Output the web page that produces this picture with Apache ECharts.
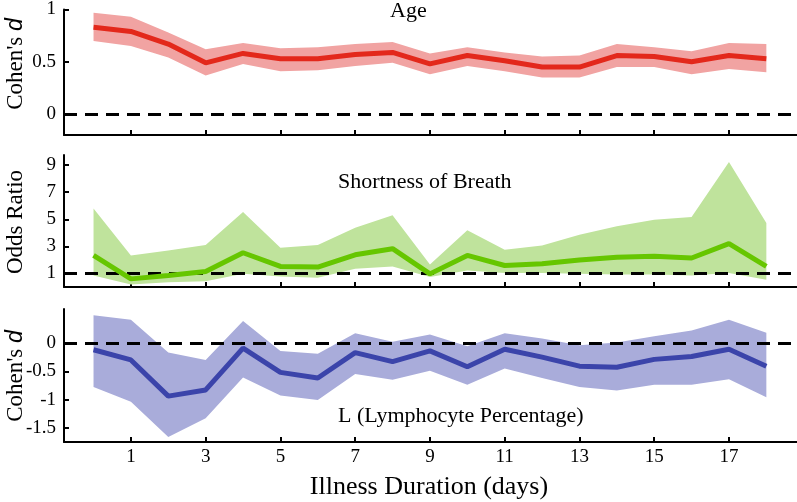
<!DOCTYPE html>
<html><head><meta charset="utf-8">
<script src="https://cdn.jsdelivr.net/npm/echarts@6/dist/echarts.min.js"></script>
<style>html,body{margin:0;padding:0;background:#fff}#c{width:797px;height:502px}</style>
</head><body><div id="c"></div>
<script>
const days = [0,1,2,3,4,5,6,7,8,9,10,11,12,13,14,15,16,17,18];
const xTickValues = [1,3,5,7,9,11,13,15,17];

const ageMean = [0.83,0.79,0.67,0.49,0.58,0.53,0.53,0.57,0.59,0.48,0.56,0.51,0.45,0.45,0.56,0.55,0.50,0.56,0.53];
const ageLow  = [0.70,0.65,0.54,0.37,0.48,0.41,0.42,0.46,0.49,0.38,0.46,0.41,0.35,0.35,0.45,0.45,0.38,0.43,0.40];
const ageHigh = [0.97,0.93,0.78,0.62,0.68,0.63,0.64,0.67,0.69,0.58,0.64,0.59,0.55,0.56,0.67,0.64,0.60,0.68,0.67];

const sobMean = [2.33,0.60,0.85,1.15,2.53,1.52,1.47,2.38,2.83,0.97,2.33,1.59,1.71,2.00,2.20,2.28,2.14,3.20,1.52];
const sobLow  = [0.85,0.19,0.36,0.43,0.97,0.78,0.68,1.35,1.52,0.73,1.22,1.03,1.03,0.97,0.93,0.93,0.85,1.03,0.53];
const sobHigh = [5.79,2.33,2.70,3.10,5.54,2.90,3.10,4.38,5.30,1.67,4.19,2.75,3.07,3.86,4.48,4.97,5.17,9.24,4.73];

const lymMean = [-0.12,-0.30,-0.94,-0.83,-0.09,-0.52,-0.62,-0.17,-0.33,-0.14,-0.42,-0.11,-0.25,-0.41,-0.43,-0.29,-0.24,-0.11,-0.41];
const lymLow  = [-0.78,-1.04,-1.66,-1.33,-0.61,-0.93,-1.01,-0.55,-0.65,-0.49,-0.74,-0.45,-0.62,-0.78,-0.84,-0.74,-0.74,-0.64,-0.96];
const lymHigh = [0.49,0.41,-0.17,-0.30,0.39,-0.14,-0.19,0.17,0.02,0.15,-0.06,0.17,0.08,-0.04,0.01,0.12,0.22,0.41,0.18];

const yTicks1 = [0, 0.5, 1];
const yTicks2 = [1, 3, 5, 7, 9];
const yTicks3 = [-1.5, -1, -0.5, 0];
const refLines = [0, 1, 0];

const panelTitles = ['Age', 'Shortness of Breath', 'L (Lymphocyte Percentage)'];
const xAxisName = 'Illness Duration (days)';

const SERIF = 'Liberation Serif';
const panels = [
  {mean: ageMean, low: ageLow, high: ageHigh, ticks: yTicks1, min: -0.2, max: 1.0, top: 6, height: 129,
   line: '#e3281b', band: '#f1a3a2'},
  {mean: sobMean, low: sobLow, high: sobHigh, ticks: yTicks2, min: 0, max: 9.75, top: 155, height: 132,
   line: '#66c600', band: '#bfe39c'},
  {mean: lymMean, low: lymLow, high: lymHigh, ticks: yTicks3, min: -1.75, max: 0.6, top: 309, height: 133,
   line: '#3b44aa', band: '#a9acda'}
];

const grid = [], xAxis = [], yAxis = [], series = [];
panels.forEach((p, i) => {
  grid.push({left: 64, right: 0, top: p.top, height: p.height});
  xAxis.push({
    type: 'value', gridIndex: i, min: -0.79, max: 18.82,
    axisLine: {show: true, onZero: false, lineStyle: {color: '#000', width: 2}},
    axisTick: {show: true, inside: true, length: 5, customValues: xTickValues, lineStyle: {color: '#000', width: 2}},
    axisLabel: {show: i === 2, customValues: xTickValues, fontSize: 19, fontFamily: SERIF, color: '#000', margin: 6},
    splitLine: {show: false}
  });
  yAxis.push({
    type: 'value', gridIndex: i, min: p.min, max: p.max,
    axisLine: {show: true, onZero: false, lineStyle: {color: '#000', width: 2}},
    axisTick: {show: true, inside: true, length: 5, customValues: p.ticks, lineStyle: {color: '#000', width: 2}},
    axisLabel: {show: true, customValues: p.ticks, fontSize: 19, fontFamily: SERIF, color: '#000', margin: 8},
    splitLine: {show: false}
  });
  const bandData = days.map((d, k) => [d, p.low[k], p.high[k]]);
  series.push({
    type: 'custom', xAxisIndex: i, yAxisIndex: i, silent: true, z: 1,
    data: bandData,
    encode: {x: 0, y: [1, 2]},
    renderItem: (params, api) => {
      if (params.dataIndex !== 0) return null;
      const upper = bandData.map(r => api.coord([r[0], r[2]]));
      const lower = bandData.map(r => api.coord([r[0], r[1]])).reverse();
      return {type: 'polygon', shape: {points: upper.concat(lower)}, style: {fill: p.band}};
    }
  });
  series.push({
    type: 'line', xAxisIndex: i, yAxisIndex: i, data: [], z: 2, silent: true,
    markLine: {silent: true, symbol: ['none', 'none'], label: {show: false},
      lineStyle: {color: '#000', width: 3, type: [13, 8]},
      data: [{yAxis: refLines[i]}]}
  });
  series.push({
    type: 'line', xAxisIndex: i, yAxisIndex: i, data: days.map((d, k) => [d, p.mean[k]]),
    symbol: 'none', lineStyle: {color: p.line, width: 5}, z: 5, silent: true
  });
});

const yName = (text, y) => ({
  type: 'text', x: 16, y: y, rotation: Math.PI / 2,
  style: {text: text, fill: '#000', font: '23px "Liberation Serif"', textAlign: 'center', textVerticalAlign: 'middle',
    rich: {i: {fontStyle: 'italic', fontFamily: 'Liberation Sans', fontSize: 23, fill: '#000'}}}
});

const graphic = [
  {type: 'text', x: 390, y: 11, style: {text: panelTitles[0], fill: '#000', font: '22px "Liberation Serif"', textVerticalAlign: 'middle'}},
  {type: 'text', x: 338, y: 182, style: {text: panelTitles[1], fill: '#000', font: '22px "Liberation Serif"', textVerticalAlign: 'middle'}},
  {type: 'text', x: 338, y: 416, style: {text: panelTitles[2], fill: '#000', font: '22px "Liberation Serif"', textVerticalAlign: 'middle'}},
  {type: 'text', x: 429, y: 487, style: {text: xAxisName, fill: '#000', font: '26px "Liberation Serif"', textAlign: 'center', textVerticalAlign: 'middle'}},
  yName("Cohen's {i|d}", 64),
  yName('Odds Ratio', 222),
  yName("Cohen's {i|d}", 376)
];

const chart = echarts.init(document.getElementById('c'), null, {renderer: 'canvas'});
chart.setOption({animation: false, grid, xAxis, yAxis, series, graphic});
</script></body></html>
